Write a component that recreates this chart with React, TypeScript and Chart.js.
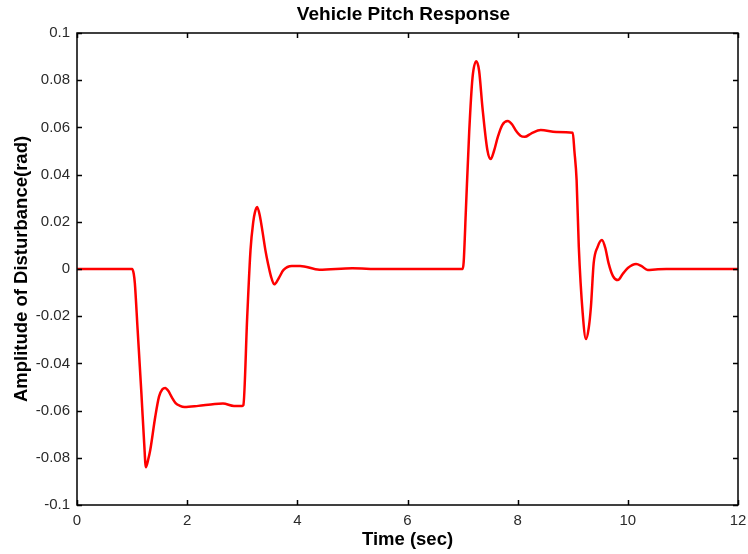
import React, { useEffect, useRef } from "react";
import { Chart, registerables } from "chart.js";

Chart.register(...registerables);

// Pitch disturbance trace: time (sec) and amplitude (rad)
const timeSec: number[] = [
  0, 0.5, 1.0, 1.03, 1.05, 1.1, 1.17, 1.22, 1.25, 1.29, 1.33, 1.42, 1.49, 1.55, 1.6, 1.66,
  1.72, 1.79, 1.87, 1.95, 2.2, 2.5, 2.65, 2.85, 3.0, 3.02, 3.09, 3.15, 3.2, 3.23, 3.27, 3.32,
  3.37, 3.42, 3.47, 3.52, 3.58, 3.66, 3.75, 3.9, 4.05, 4.4, 5.0, 5.5, 6.0, 6.5, 7.0, 7.02,
  7.06, 7.12, 7.18, 7.25, 7.3, 7.36, 7.45, 7.51, 7.57, 7.64, 7.72, 7.82, 7.9, 7.96, 8.05,
  8.13, 8.25, 8.42, 8.7, 9.0, 9.03, 9.07, 9.11, 9.18, 9.24, 9.29, 9.33, 9.38, 9.45, 9.53,
  9.59, 9.65, 9.73, 9.82, 9.91, 10.0, 10.15, 10.25, 10.36, 10.5, 10.7, 11.0, 11.5, 12.0,
];

const amplitudeRad: number[] = [
  0, 0, 0, -0.002, -0.006, -0.0255, -0.053, -0.074, -0.084, -0.081, -0.0767, -0.0627,
  -0.054, -0.051, -0.0504, -0.0517, -0.0543, -0.0568, -0.058, -0.0585, -0.058, -0.0572,
  -0.057, -0.058, -0.058, -0.0577, -0.0203, 0.008, 0.02, 0.024, 0.0263, 0.0225, 0.0155,
  0.008, 0.002, -0.003, -0.0065, -0.004, -0.0004, 0.0013, 0.0013, -0.0003, 0.0003, 0, 0, 0,
  0, 0.003, 0.025, 0.058, 0.081, 0.088, 0.084, 0.0686, 0.0504, 0.0466, 0.05, 0.056, 0.061,
  0.0627, 0.0612, 0.0589, 0.0565, 0.056, 0.0575, 0.0589, 0.058, 0.0577, 0.05, 0.0377,
  0.0093, -0.0186, -0.0297, -0.025, -0.016, 0.0025, 0.0093, 0.0123, 0.009, 0.0025, -0.003,
  -0.0047, -0.002, 0.0004, 0.0021, 0.0012, -0.0004, -0.0002, 0, 0, 0, 0,
];

const xTicks: number[] = [0, 2, 4, 6, 8, 10, 12];
const yTicks: number[] = [-0.1, -0.08, -0.06, -0.04, -0.02, 0, 0.02, 0.04, 0.06, 0.08, 0.1];

const CHART_TITLE = "Vehicle Pitch Response";
const FONT = "Liberation Sans, Arial, Helvetica, sans-serif";
const TEXT_COLOR = "#2a2a2a";

// Draws the boxed frame with short inward tick marks on all four sides,
// and the title centred over the plot area
const frameTicks = {
  id: "frameTicks",
  afterDatasetsDraw(chart: any) {
    const { ctx, chartArea: a, scales } = chart;
    const len = 5;
    ctx.save();
    ctx.strokeStyle = "#000";
    ctx.lineWidth = 1.5;
    ctx.strokeRect(a.left, a.top, a.right - a.left, a.bottom - a.top);
    ctx.beginPath();
    for (const v of xTicks) {
      const x = Math.round(scales.x.getPixelForValue(v)) + 0.5;
      ctx.moveTo(x, a.bottom);
      ctx.lineTo(x, a.bottom - len);
      ctx.moveTo(x, a.top);
      ctx.lineTo(x, a.top + len);
    }
    for (const v of yTicks) {
      const y = Math.round(scales.y.getPixelForValue(v)) + 0.5;
      ctx.moveTo(a.left, y);
      ctx.lineTo(a.left + len, y);
      ctx.moveTo(a.right, y);
      ctx.lineTo(a.right - len, y);
    }
    ctx.stroke();

    ctx.fillStyle = "#000";
    ctx.font = `bold 19px ${FONT}`;
    ctx.textAlign = "center";
    ctx.textBaseline = "middle";
    ctx.fillText(CHART_TITLE, (a.left + a.right) / 2 - 4, a.top / 2 - 2);
    ctx.restore();
  },
};

export default function App() {
  const canvasRef = useRef<HTMLCanvasElement | null>(null);

  useEffect(() => {
    document.body.style.margin = "0";
    const canvas = canvasRef.current;
    if (!canvas) return;
    const points = timeSec.map((t, i) => ({ x: t, y: amplitudeRad[i] }));

    const chart = new Chart(canvas, {
      type: "line",
      data: {
        datasets: [
          {
            data: points,
            borderColor: "#ff0000",
            borderWidth: 2.5,
            pointRadius: 0,
            cubicInterpolationMode: "monotone",
            fill: false,
          },
        ],
      },
      options: {
        animation: false,
        responsive: false,
        maintainAspectRatio: false,
        layout: { padding: { top: 33, right: 10, bottom: 0, left: 0 } },
        plugins: {
          legend: { display: false },
          tooltip: { enabled: false },
          title: { display: false },
        },
        scales: {
          x: {
            type: "linear",
            min: 0,
            max: 12,
            afterBuildTicks: (scale: any) => {
              scale.ticks = xTicks.map((v) => ({ value: v }));
            },
            afterFit: (scale: any) => {
              scale.height = 49;
              scale.paddingLeft = 0;
              scale.paddingRight = 0;
            },
            grid: { display: false, drawTicks: false },
            border: { display: false },
            ticks: {
              color: TEXT_COLOR,
              padding: 7,
              maxRotation: 0,
              font: { family: FONT, size: 15 },
            },
            title: {
              display: true,
              text: "Time (sec)",
              color: "#000",
              font: { family: FONT, size: 18.5, weight: "bold" },
              padding: { top: 0, bottom: 3 },
            },
          },
          y: {
            type: "linear",
            min: -0.1,
            max: 0.1,
            afterBuildTicks: (scale: any) => {
              scale.ticks = yTicks.map((v) => ({ value: v }));
            },
            afterFit: (scale: any) => {
              scale.width = 77;
              scale.paddingTop = 0;
              scale.paddingBottom = 0;
            },
            grid: { display: false, drawTicks: false },
            border: { display: false },
            ticks: {
              color: TEXT_COLOR,
              padding: 7,
              font: { family: FONT, size: 15 },
              callback: (v: any) => String(Math.round(Number(v) * 100) / 100),
            },
            title: {
              display: true,
              text: "Amplitude of Disturbance(rad)",
              color: "#000",
              font: { family: FONT, size: 18.5, weight: "bold" },
              padding: { top: 10.5, bottom: 0 },
            },
          },
        },
      },
      plugins: [frameTicks],
    });

    return () => chart.destroy();
  }, []);

  return (
    <div style={{ position: "absolute", left: 0, top: 0, width: 748, height: 554, background: "#fff" }}>
      <canvas ref={canvasRef} width={748} height={554} />
    </div>
  );
}
